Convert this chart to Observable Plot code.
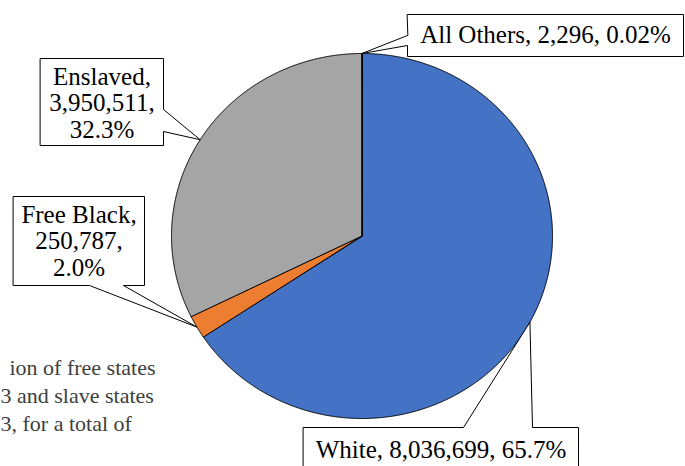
<!DOCTYPE html>
<html><head><meta charset="utf-8">
<script src="https://cdn.jsdelivr.net/npm/d3@7"></script>
<script src="https://cdn.jsdelivr.net/npm/@observablehq/plot@0.6"></script>
<style>
html,body{margin:0;padding:0;background:#fff;}
#chart{width:685px;height:466px;overflow:hidden;}
#chart svg, #chart svg text, #chart svg tspan{font-family:"Liberation Serif","Times New Roman",serif !important;}
</style></head><body><div id="chart"></div>
<script>
// ---- data ----
const categories = ["White", "Free Black", "Enslaved", "All Others"];
const populations = [8036699, 250787, 3950511, 2296];
const sliceColors = ["#4472C4", "#ED7D31", "#A5A5A5", "#FFC000"];
const labelBreaks = [false, true, true, false];
const noteLines = ["ion of free states", "3 and slave states", "3, for a total of"];

// ---- layout (pixels) ----
const CX = 361.5, CY = 235.5, RX = 190.5, RY = 182.5;
const W = 685, H = 466;
const FONT = "Liberation Serif";
// callout boxes: [x1,y1,x2,y2], edge with the pointer, pointer base [b0,b1], text anchor x, last baseline
const callouts = [
  {box:[303,427,578,480], edge:"top",    base:[463,532], tx:440.5, ty:457},
  {box:[13,196,144,285],  edge:"bottom", base:[89,123],  tx:78.5,  ty:275},
  {box:[40,58,163,145],   edge:"right",  base:[109,131], tx:101.5, ty:137},
  {box:[407,14,683,56],   edge:"left",   base:[35,45],   tx:545,   ty:42.5}
];
const noteLayout = [{x:9,y:374},{x:0,y:402},{x:0,y:430}];

const u = px => (px - CX) / RX;
const v = py => (CY - py) / RY;

const total = d3.sum(populations);
let cum = 0;
const slices = categories.map((name, i) => {
  const a0 = cum / total * 2 * Math.PI;
  cum += populations[i];
  const a1 = cum / total * 2 * Math.PI;
  return {name, value: populations[i], a0, a1, mid: (a0 + a1) / 2, color: sliceColors[i]};
});

const pieMarks = slices.map(s => {
  const pts = [{x: 0, y: 0}];
  const n = Math.max(2, Math.ceil((s.a1 - s.a0) / 0.004));
  for (let k = 0; k <= n; k++) {
    const a = s.a0 + (s.a1 - s.a0) * k / n;
    pts.push({x: Math.sin(a), y: Math.cos(a)});
  }
  return Plot.line(pts, {x: "x", y: "y", fill: s.color, stroke: "#000", strokeWidth: 1, curve: "linear-closed"});
});

function calloutPoly(c, s) {
  const [x1, y1, x2, y2] = c.box;
  const tip = {x: Math.sin(s.mid), y: Math.cos(s.mid)};
  const P = (px, py) => ({x: u(px), y: v(py)});
  const [b0, b1] = c.base;
  let pts;
  if (c.edge === "top") pts = [P(x1,y1), P(b0,y1), tip, P(b1,y1), P(x2,y1), P(x2,y2), P(x1,y2)];
  else if (c.edge === "right") pts = [P(x1,y1), P(x2,y1), P(x2,b0), tip, P(x2,b1), P(x2,y2), P(x1,y2)];
  else if (c.edge === "bottom") pts = [P(x1,y1), P(x2,y1), P(x2,y2), P(b1,y2), tip, P(b0,y2), P(x1,y2)];
  else pts = [P(x1,y1), P(x2,y1), P(x2,y2), P(x1,y2), P(x1,b1), tip, P(x1,b0)];
  return pts;
}

const fmt = d3.format(",");
function labelText(s, i) {
  const p = s.value / total * 100;
  const pct = (p < 0.1 ? p.toFixed(2) : p.toFixed(1)) + "%";
  const sep = labelBreaks[i] ? "\n" : " ";
  return `${s.name},${sep}${fmt(s.value)},${sep}${pct}`;
}

const calloutMarks = [];
slices.forEach((s, i) => {
  const c = callouts[i];
  calloutMarks.push(Plot.line(calloutPoly(c, s), {x: "x", y: "y", fill: "#fff", stroke: "#000", strokeWidth: 1, curve: "linear-closed"}));
  calloutMarks.push(Plot.text([labelText(s, i)], {
    x: () => u(c.tx), y: () => v(c.ty), text: d => d,
    fontSize: 25, fontFamily: FONT, fill: "#000", textAnchor: "middle",
    lineAnchor: "bottom", lineHeight: 1.06
  }));
});

const noteMark = Plot.text(noteLines.map((t, i) => ({t, x: u(noteLayout[i].x), y: v(noteLayout[i].y)})), {
  x: "x", y: "y", text: "t", textAnchor: "start", lineAnchor: "bottom",
  fontSize: 22, fontFamily: FONT, fill: "#404040"
});

const chart = Plot.plot({
  width: W, height: H, margin: 0,
  style: {background: "#fff", fontFamily: "Liberation Serif"},
  x: {domain: [u(0), u(W)], axis: null},
  y: {domain: [v(H), v(0)], axis: null},
  marks: [noteMark, ...pieMarks, ...calloutMarks]
});
document.getElementById("chart").appendChild(chart);
</script>
</body></html>
